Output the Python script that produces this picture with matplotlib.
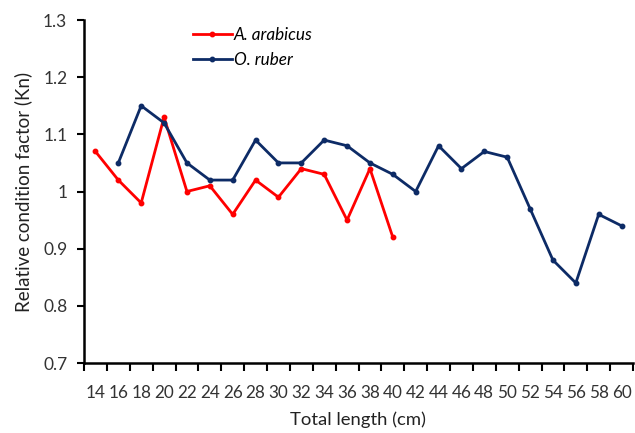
import matplotlib
matplotlib.use("Agg")
import matplotlib.pyplot as plt
import numpy as np

plt.rcParams['font.family'] = ['Lato', 'DejaVu Sans']

lengths = [14, 16, 18, 20, 22, 24, 26, 28, 30, 32, 34, 36, 38, 40,
           42, 44, 46, 48, 50, 52, 54, 56, 58, 60]

arabicus_len = [14, 16, 18, 20, 22, 24, 26, 28, 30, 32, 34, 36, 38, 40]
arabicus_kn = [1.07, 1.02, 0.98, 1.13, 1.00, 1.01, 0.96, 1.02, 0.99, 1.04,
               1.03, 0.95, 1.04, 0.92]

ruber_len = [16, 18, 20, 22, 24, 26, 28, 30, 32, 34, 36, 38, 40, 42, 44,
             46, 48, 50, 52, 54, 56, 58, 60]
ruber_kn = [1.05, 1.15, 1.12, 1.05, 1.02, 1.02, 1.09, 1.05, 1.05, 1.09,
            1.08, 1.05, 1.03, 1.00, 1.08, 1.04, 1.07, 1.06, 0.97, 0.88,
            0.84, 0.96, 0.94]

fig = plt.figure(figsize=(6.35, 4.33), dpi=100)
ax = fig.add_axes([84 / 635, 1 - 363 / 433, (633 - 84) / 635, (363 - 20) / 433])

pos = {v: i for i, v in enumerate(lengths)}
xa = [pos[v] for v in arabicus_len]
xr = [pos[v] for v in ruber_len]

ax.plot(xa, arabicus_kn, color='#FF0000', lw=2, marker='o', ms=3.2,
        label='A. arabicus')
ax.plot(xr, ruber_kn, color='#0D2B66', lw=2, marker='o', ms=3.2,
        label='O. ruber')

ax.set_xlim(-0.5, len(lengths) - 0.5)
ax.set_ylim(0.7, 1.3)
ax.set_yticks(np.arange(0.7, 1.31, 0.1))
ax.set_yticklabels(['0.7', '0.8', '0.9', '1', '1.1', '1.2', '1.3'])

ax.set_xticks(np.arange(-0.5, len(lengths), 1.0))
ax.set_xticklabels([])
ax.set_xticks(np.arange(len(lengths)), minor=True)
ax.set_xticklabels([str(v) for v in lengths], minor=True)
ax.tick_params(axis='x', which='major', direction='out', length=6, width=1.5,
               color='black')
ax.tick_params(axis='x', which='minor', length=0, pad=16, labelsize=12.3,
               labelcolor='#333333')
ax.tick_params(axis='y', direction='out', length=5, width=1.5, pad=7,
               labelsize=12.5, labelcolor='#333333')

for side in ('top', 'right'):
    ax.spines[side].set_visible(False)
for side in ('left', 'bottom'):
    ax.spines[side].set_linewidth(1.8)

ax.set_xlabel('Total length (cm)', fontsize=13.3, color='#222222', labelpad=7)
ax.set_ylabel('Relative condition factor (Kn)', fontsize=13.5, color='#222222',
              labelpad=8)

leg = ax.legend(loc='upper left', bbox_to_anchor=(0.17, 1.025), frameon=False,
                handlelength=2.3, handletextpad=0.1, labelspacing=0.55,
                prop={'style': 'italic', 'size': 12.3})

fig.savefig('out.png', dpi=100)
